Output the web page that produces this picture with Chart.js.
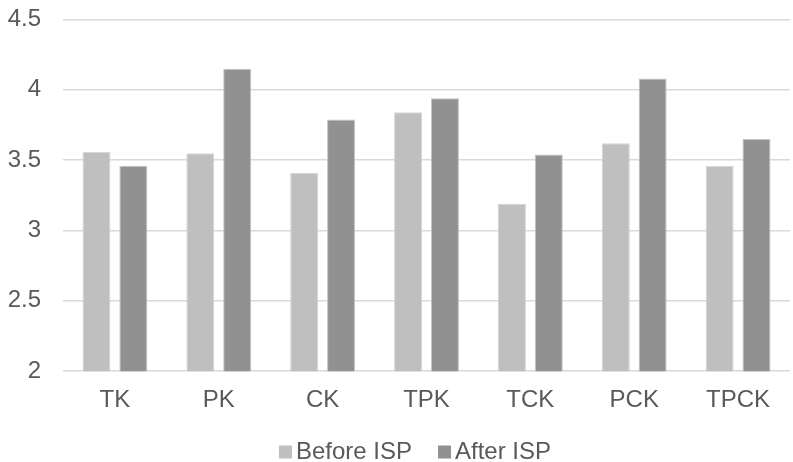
<!DOCTYPE html>
<html>
<head>
<meta charset="utf-8">
<script src="https://cdn.jsdelivr.net/npm/chart.js@4/dist/chart.umd.min.js"></script>
<style>
  html, body { margin: 0; padding: 0; background: #fff; }
  #wrap { width: 793px; height: 462px; }
</style>
</head>
<body>
<div id="wrap"><canvas id="c" width="793" height="462"></canvas></div>
<script>
const categories = ['TK', 'PK', 'CK', 'TPK', 'TCK', 'PCK', 'TPCK'];
const beforeISP = [3.56, 3.55, 3.41, 3.84, 3.19, 3.62, 3.46];
const afterISP  = [3.46, 4.15, 3.79, 3.94, 3.54, 4.08, 3.65];
const seriesNames = ['Before ISP', 'After ISP'];

const FONT = '"Liberation Sans", Arial, sans-serif';
const TEXT = '#595959';

// Legend drawn under the axis: small square swatch, tight gap, then label
const bottomLegend = {
  id: 'bottomLegend',
  afterDraw(chart) {
    const ctx = chart.ctx;
    const box = 13, gap = 4, itemGap = 26, y = 452;
    ctx.save();
    ctx.font = '24px ' + FONT;
    ctx.textBaseline = 'middle';
    const items = chart.data.datasets.map(ds => ({
      label: ds.label, color: ds.backgroundColor, w: box + gap + ctx.measureText(ds.label).width
    }));
    const total = items.reduce((s, it) => s + it.w, 0) + itemGap * (items.length - 1);
    let x = 415 - total / 2;
    items.forEach(it => {
      ctx.fillStyle = it.color;
      ctx.fillRect(x, y - box / 2, box, box);
      ctx.fillStyle = TEXT;
      ctx.fillText(it.label, x + box + gap, y);
      x += it.w + itemGap;
    });
    ctx.restore();
  }
};

new Chart(document.getElementById('c'), {
  type: 'bar',
  data: {
    labels: categories,
    datasets: [
      { label: seriesNames[0], data: beforeISP, backgroundColor: '#bfbfbf', borderColor: '#d6d6d6', borderWidth: 1 },
      { label: seriesNames[1], data: afterISP,  backgroundColor: '#919191', borderColor: '#c4c4c4', borderWidth: 1 }
    ]
  },
  options: {
    responsive: false,
    animation: false,
    devicePixelRatio: 1,
    categoryPercentage: 0.71,
    barPercentage: 0.76,
    layout: { padding: { left: 0, right: 3, top: 19.5, bottom: 32 } },
    plugins: {
      legend: { display: false },
      tooltip: { enabled: false }
    },
    scales: {
      x: {
        grid: { display: false, drawTicks: false },
        border: { display: false },
        ticks: { color: TEXT, font: { family: FONT, size: 24 }, padding: 15 }
      },
      y: {
        min: 2, max: 4.5,
        grid: { color: '#d9d9d9', lineWidth: 1.5, drawTicks: false },
        border: { display: false },
        ticks: {
          stepSize: 0.5, color: TEXT, font: { family: FONT, size: 24 }, padding: 22,
          callback: v => String(Math.round(v * 10) / 10)
        },
        afterFit(scale) {
          scale.width = 63;
          scale.paddingTop = 0;
          scale.paddingBottom = 0;
        }
      }
    }
  },
  plugins: [bottomLegend]
});
</script>
</body>
</html>
